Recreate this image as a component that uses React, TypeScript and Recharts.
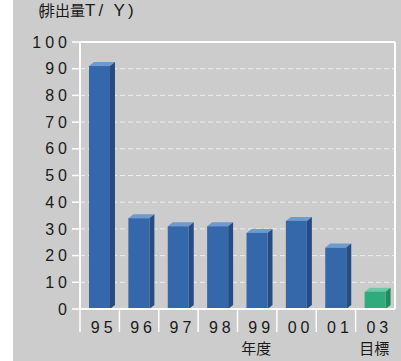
import { BarChart, Bar, XAxis, YAxis, CartesianGrid, ReferenceLine } from "recharts"

const years = ["95", "96", "97", "98", "99", "00", "01", "03"]
const emissions = [91, 34, 31, 31, 28.5, 33, 23, 6.5]
const subLabels = ["", "", "", "", "年度", "", "", "目標"]
const yTicks = [0, 10, 20, 30, 40, 50, 60, 70, 80, 90, 100]
const goalYear = "03"

const data = years.map((year, i) => ({ year, value: emissions[i], sub: subLabels[i] }))

const CHART_W = 388
const CHART_H = 361
const Y_AXIS_W = 67
const RIGHT_W = 6
const band = (CHART_W - Y_AXIS_W - RIGHT_W) / years.length

const latin = "'Liberation Sans', Arial, sans-serif"
const cjk = "'Noto Sans CJK JP', sans-serif"

function Bar3D(props: any) {
	const { x, y, width, height, payload } = props
	if (height == null || height <= 0) return null
	const goal = payload.year === goalYear
	const front = goal ? "#2fab7c" : "#3567ab"
	const top = goal ? "#6dcaa6" : "#6e9acf"
	const side = goal ? "#218a60" : "#284c82"
	const dx = 5
	const dy = 4
	return (
		<g>
			<polygon points={`${x},${y} ${x + width},${y} ${x + width + dx},${y - dy} ${x + dx},${y - dy}`} fill={top} />
			<polygon
				points={`${x + width},${y} ${x + width + dx},${y - dy} ${x + width + dx},${y + height - dy} ${x + width},${y + height}`}
				fill={side}
			/>
			<rect x={x} y={y} width={width} height={height} fill={front} />
		</g>
	)
}

function XTick(props: any) {
	const { x, y, payload, index } = props
	const item = data[index]
	return (
		<g>
			<line x1={x - band / 2} x2={x - band / 2} y1={y} y2={y + 23} stroke="#fff" strokeWidth={1.5} />
			<text x={x + 4} y={y + 24} textAnchor="middle" fontFamily={latin} fontSize={16} letterSpacing={4} fill="#1a1a1a">
				{payload.value}
			</text>
			{item && item.sub ? (
				<text x={x - 1} y={y + 45} textAnchor="middle" fontFamily={cjk} fontSize={15} fill="#1a1a1a">
					{item.sub}
				</text>
			) : null}
		</g>
	)
}

export default function App() {
	return (
		<div style={{ position: "absolute", left: 0, top: 0, width: 401, height: 361, background: "#fff" }}>
			<div style={{ position: "absolute", left: 13, top: 0, width: CHART_W, height: CHART_H, background: "#cccccc" }}>
				<div
					style={{
						position: "absolute",
						left: 25,
						top: 0,
						fontFamily: cjk,
						fontSize: 15,
						color: "#1a1a1a",
						whiteSpace: "pre",
						lineHeight: "20px",
					}}
				>
					<span style={{ letterSpacing: -3 }}>(</span>
					<span>排出量</span>
					<span style={{ fontFamily: latin, fontSize: 17, letterSpacing: 3 }}>T/ Y)</span>
				</div>
				<BarChart width={CHART_W} height={CHART_H} data={data} margin={{ top: 42, right: 0, bottom: 0, left: 0 }} barSize={21}>
					<CartesianGrid yAxisId="left" vertical={false} stroke="#eeeeee" strokeDasharray="5 3" />
					<XAxis
						dataKey="year"
						height={52}
						axisLine={{ stroke: "#fff", strokeWidth: 2 }}
						tickLine={false}
						tickSize={0}
						tickMargin={0}
						tick={<XTick />}
						interval={0}
					/>
					<YAxis
						yAxisId="left"
						width={Y_AXIS_W}
						domain={[0, 100]}
						ticks={yTicks}
						interval={0}
						axisLine={{ stroke: "#fff", strokeWidth: 2 }}
						tickLine={{ stroke: "#fff", strokeWidth: 1.5 }}
						tickSize={8}
						tickMargin={1}
						tick={{ fill: "#1a1a1a", fontSize: 16, fontFamily: latin, letterSpacing: 4 }}
					/>
					<YAxis
						yAxisId="right"
						orientation="right"
						width={RIGHT_W}
						domain={[0, 100]}
						tick={false}
						tickLine={false}
						axisLine={{ stroke: "#fff", strokeWidth: 2 }}
					/>
					<ReferenceLine yAxisId="left" y={100} stroke="#fff" strokeWidth={2} />
					<Bar yAxisId="left" dataKey="value" shape={<Bar3D />} isAnimationActive={false} />
				</BarChart>
			</div>
		</div>
	)
}
